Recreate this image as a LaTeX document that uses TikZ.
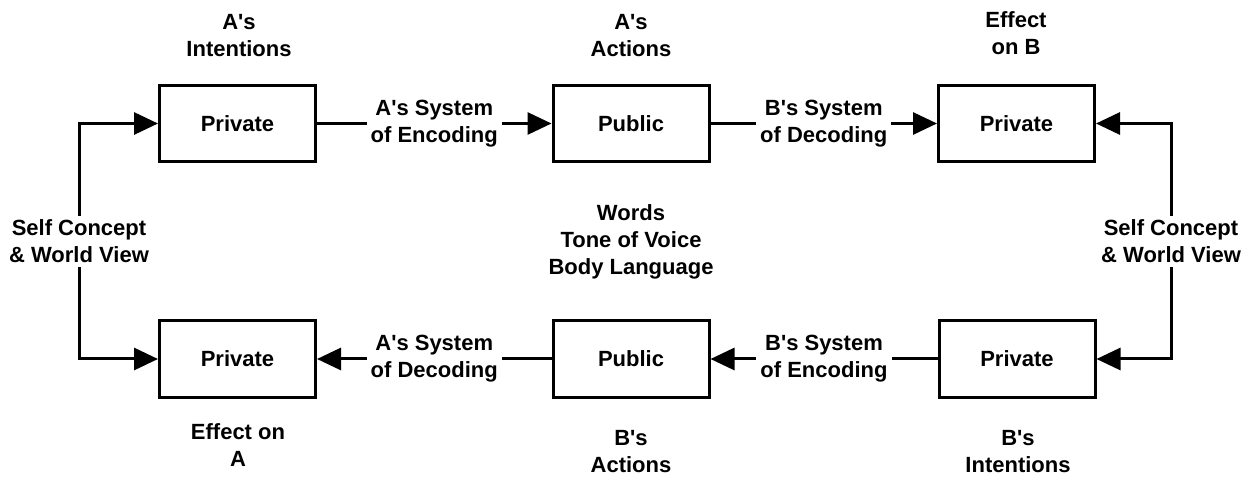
\documentclass[tikz,border=0pt]{standalone}
\usepackage{fontspec}
\setmainfont{Liberation Sans}
\usetikzlibrary{arrows.meta}
\newcommand{\q}{\textquotesingle}

\begin{document}
\begin{tikzpicture}[x=1pt,y=-1pt,font=\fontsize{22}{27}\selectfont\bfseries,
  box/.style={draw,line width=3pt,minimum width=156pt,minimum height=76pt},
  lbl/.style={align=center},
  tag/.style={fill=white,align=center,inner sep=4pt},
  flow/.style={line width=3pt,-{Triangle[length=24pt,width=22pt]}},
  twoway/.style={line width=3pt,{Triangle[length=24pt,width=22pt]}-{Triangle[length=24pt,width=22pt]}}]
\useasboundingbox (0,0) rectangle (1248,478);
% boxes
\node[box] (aint) at (237.5,123.5) {Private};
\node[box] (aact) at (631,123.5) {Public};
\node[box] (beff) at (1016.5,123.5) {Private};
\node[box] (aeff) at (237.5,359) {Private};
\node[box] (bact) at (631,359) {Public};
\node[box] (bint) at (1017,359) {Private};
% captions
\node[lbl] (aintlbl) at (239,35.5) {A\q s\\Intentions};
\node[lbl] (aactlbl) at (631,35.5) {A\q s\\Actions};
\node[lbl] (befflbl) at (1016,33.5) {Effect\\on B};
\node[lbl] (aefflbl) at (238,445) {Effect on\\A};
\node[lbl] (bactlbl) at (631,452) {B\q s\\Actions};
\node[lbl] (bintlbl) at (1018,452) {B\q s\\Intentions};
\node[lbl] (cues) at (631,242) {Words\\Tone of Voice\\Body Language};
% flows
\draw[flow] (aint) -- node[tag] {A\q s System\\of Encoding} (aact);
\draw[flow] (aact) -- node[tag] {B\q s System\\of Decoding} (beff);
\draw[flow] (bint) -- node[tag] {B\q s System\\of Encoding} (bact);
\draw[flow] (bact) -- node[tag] {A\q s System\\of Decoding} (aeff);
% loops
\coordinate (lloop) at (79,0);
\coordinate (rloop) at (1171,0);
\draw[twoway] (aint.west) -- (aint.west -| lloop)
  -- node[tag] {Self Concept\\\& World View} (aeff.west -| lloop) -- (aeff.west);
\draw[twoway] (beff.east) -- (beff.east -| rloop)
  -- node[tag] {Self Concept\\\& World View} (bint.east -| rloop) -- (bint.east);
\end{tikzpicture}
\end{document}
